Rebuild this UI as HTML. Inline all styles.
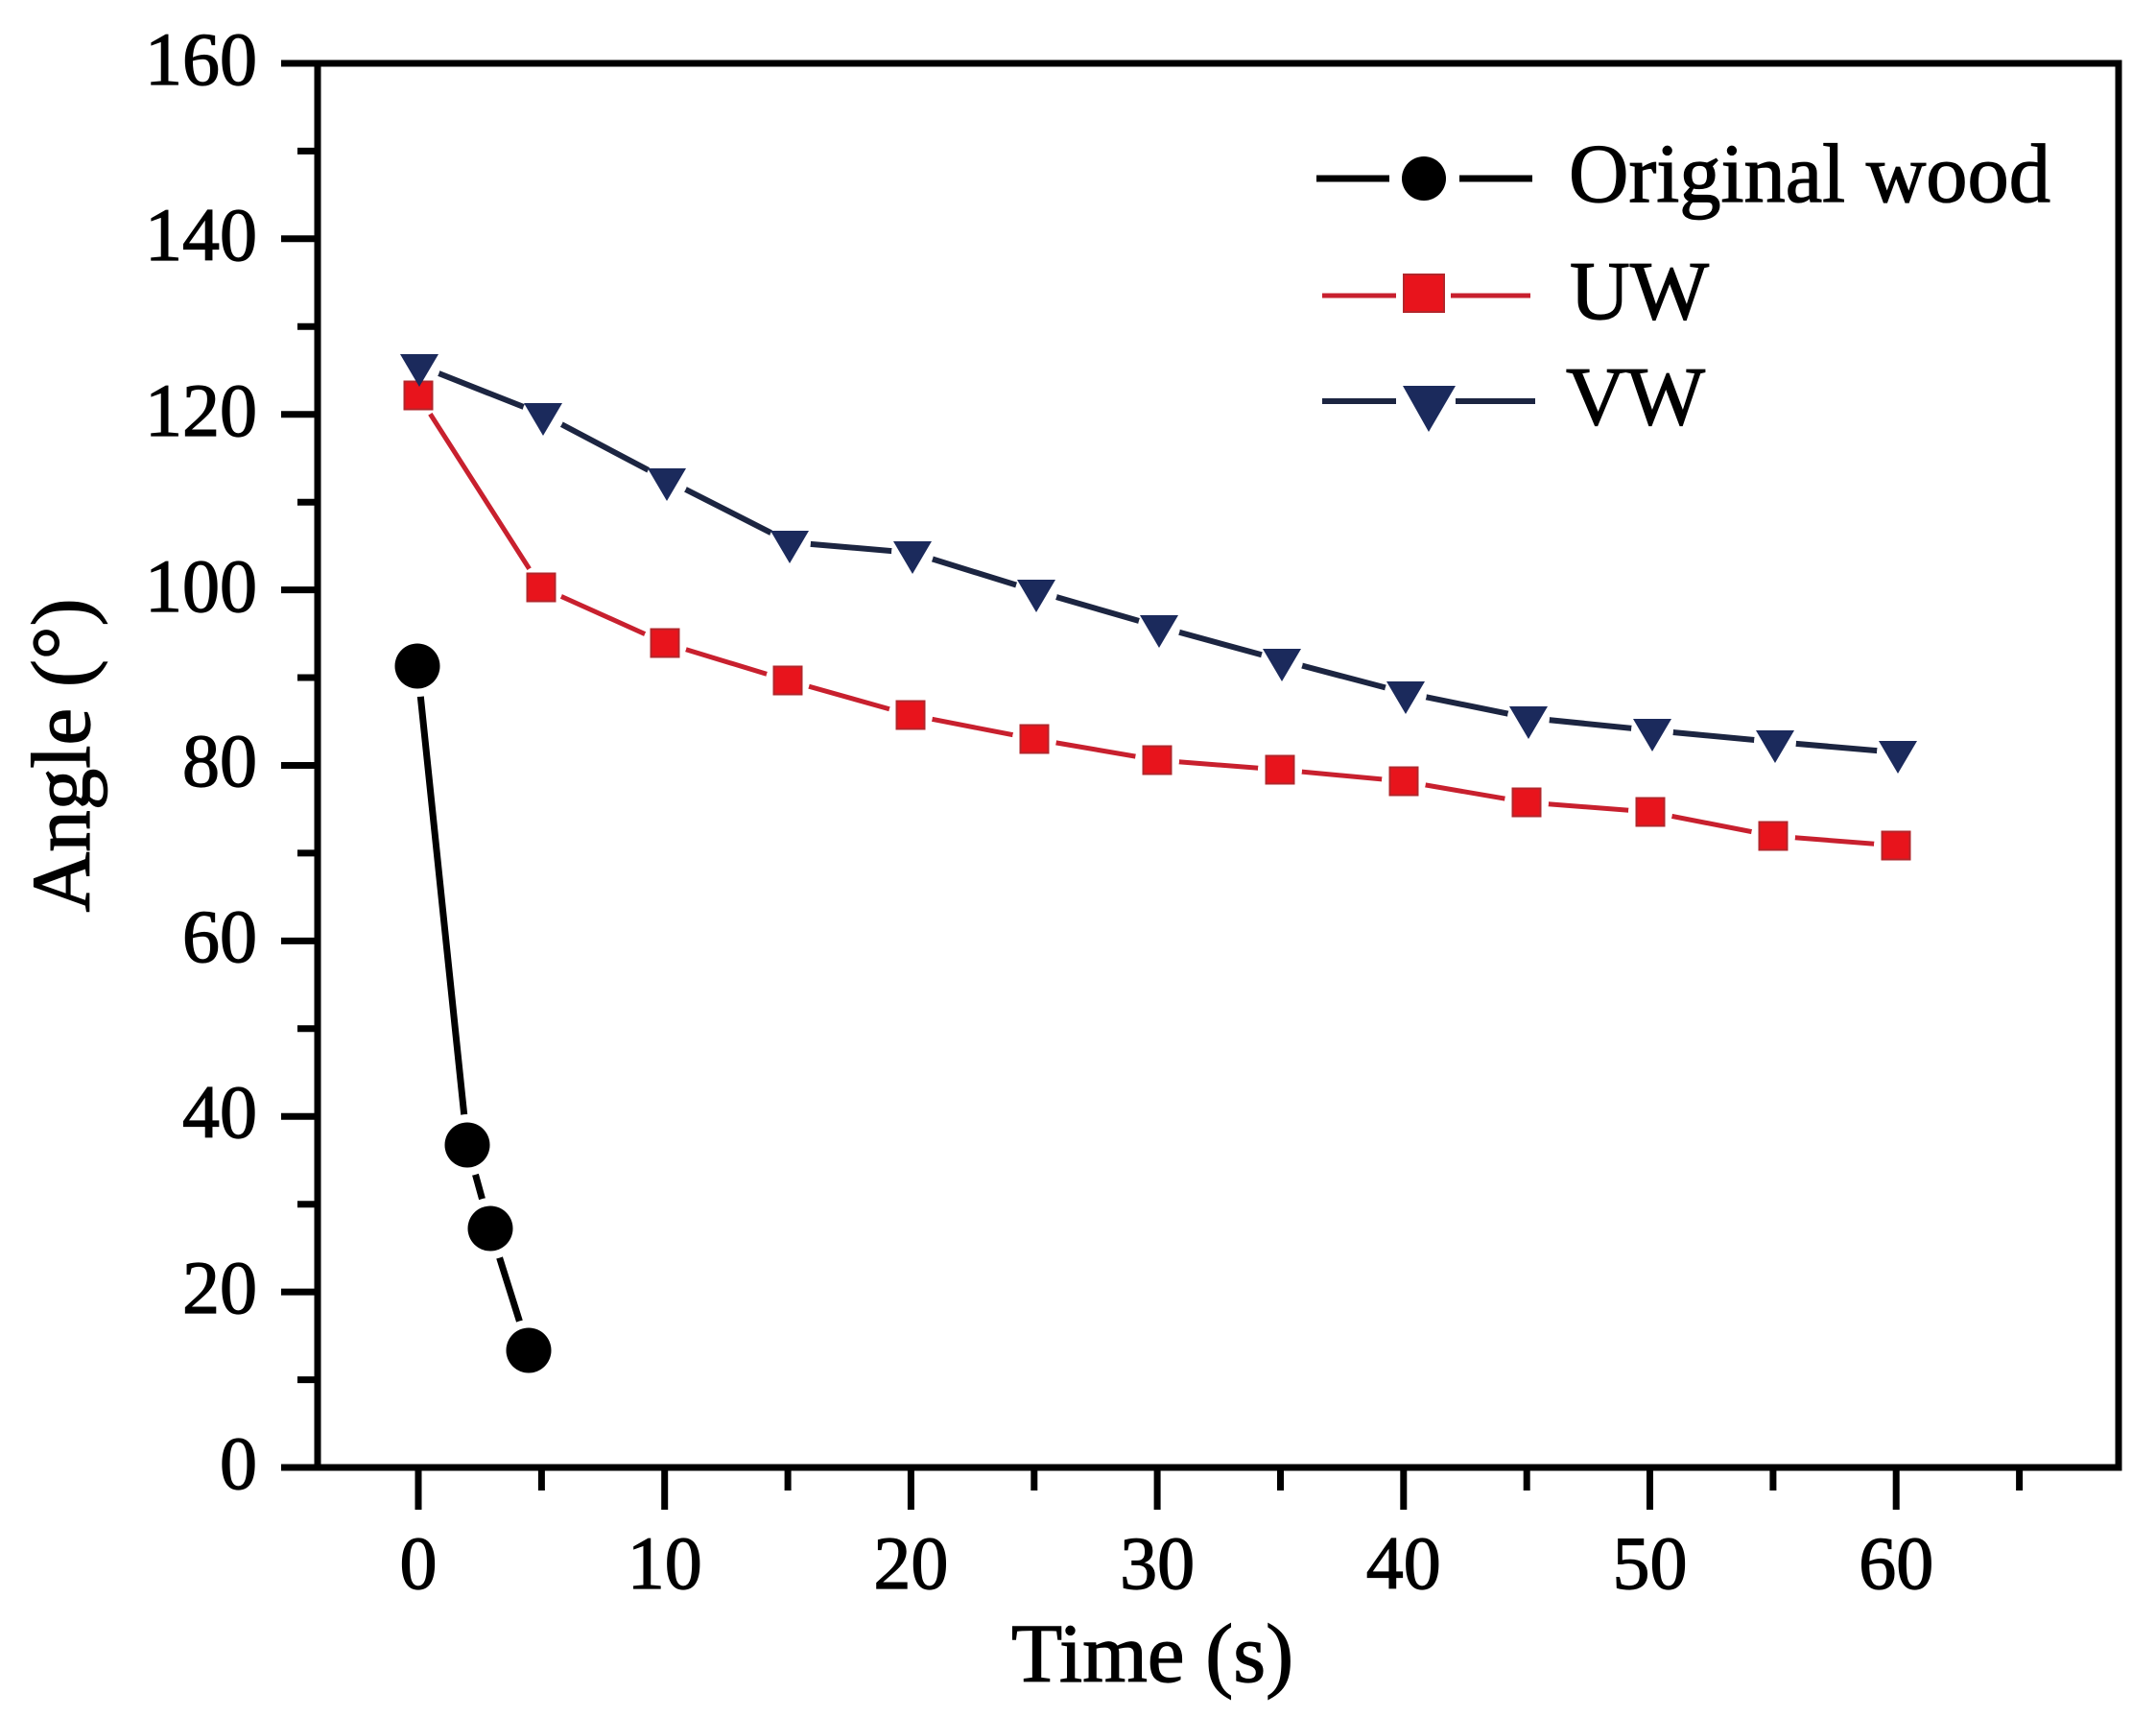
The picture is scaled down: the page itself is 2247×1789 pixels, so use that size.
<!DOCTYPE html>
<html><head><meta charset="utf-8"><style>
html,body{margin:0;padding:0;background:#fff;}
svg{display:block;}
text{font-family:"Liberation Serif","Times New Roman",serif;fill:#000;stroke:#000;stroke-width:1.2;}
</style></head><body>
<svg width="2247" height="1789" viewBox="0 0 2247 1789" xmlns="http://www.w3.org/2000/svg">
<rect x="0" y="0" width="2247" height="1789" fill="#fff"/>
<!-- frame -->
<rect x="331" y="66" width="1877" height="1463" fill="none" stroke="#000" stroke-width="7"/>
<!-- y ticks -->
<g stroke="#000" stroke-width="7">
<line x1="293" y1="1529" x2="331" y2="1529"/>
<line x1="310" y1="1437.6" x2="331" y2="1437.6"/>
<line x1="293" y1="1346.1" x2="331" y2="1346.1"/>
<line x1="310" y1="1254.7" x2="331" y2="1254.7"/>
<line x1="293" y1="1163.2" x2="331" y2="1163.2"/>
<line x1="310" y1="1071.8" x2="331" y2="1071.8"/>
<line x1="293" y1="980.4" x2="331" y2="980.4"/>
<line x1="310" y1="888.9" x2="331" y2="888.9"/>
<line x1="293" y1="797.5" x2="331" y2="797.5"/>
<line x1="310" y1="706" x2="331" y2="706"/>
<line x1="293" y1="614.6" x2="331" y2="614.6"/>
<line x1="310" y1="523.2" x2="331" y2="523.2"/>
<line x1="293" y1="431.7" x2="331" y2="431.7"/>
<line x1="310" y1="340.3" x2="331" y2="340.3"/>
<line x1="293" y1="248.8" x2="331" y2="248.8"/>
<line x1="310" y1="157.4" x2="331" y2="157.4"/>
<line x1="293" y1="66" x2="331" y2="66"/>
</g>
<!-- x ticks -->
<g stroke="#000" stroke-width="7">
<line x1="436" y1="1529" x2="436" y2="1573"/>
<line x1="564.4" y1="1529" x2="564.4" y2="1553"/>
<line x1="692.7" y1="1529" x2="692.7" y2="1573"/>
<line x1="821.1" y1="1529" x2="821.1" y2="1553"/>
<line x1="949.4" y1="1529" x2="949.4" y2="1573"/>
<line x1="1077.8" y1="1529" x2="1077.8" y2="1553"/>
<line x1="1206.1" y1="1529" x2="1206.1" y2="1573"/>
<line x1="1334.5" y1="1529" x2="1334.5" y2="1553"/>
<line x1="1462.8" y1="1529" x2="1462.8" y2="1573"/>
<line x1="1591.2" y1="1529" x2="1591.2" y2="1553"/>
<line x1="1719.5" y1="1529" x2="1719.5" y2="1573"/>
<line x1="1847.9" y1="1529" x2="1847.9" y2="1553"/>
<line x1="1976.2" y1="1529" x2="1976.2" y2="1573"/>
<line x1="2104.6" y1="1529" x2="2104.6" y2="1553"/>
</g>
<!-- y tick labels -->
<g font-size="78" text-anchor="end">
<text x="268" y="1551">0</text>
<text x="268" y="1368">20</text>
<text x="268" y="1185">40</text>
<text x="268" y="1002">60</text>
<text x="268" y="819">80</text>
<text x="268" y="637">100</text>
<text x="268" y="454">120</text>
<text x="268" y="271">140</text>
<text x="268" y="88">160</text>
</g>
<!-- x tick labels -->
<g font-size="78" text-anchor="middle">
<text x="436" y="1655">0</text>
<text x="692.7" y="1655">10</text>
<text x="949.4" y="1655">20</text>
<text x="1206.1" y="1655">30</text>
<text x="1462.8" y="1655">40</text>
<text x="1719.5" y="1655">50</text>
<text x="1976.2" y="1655">60</text>
</g>
<!-- axis titles -->
<text x="1201" y="1752" font-size="87" text-anchor="middle">Time (s)</text>
<text transform="translate(93,787) rotate(-90)" font-size="87" text-anchor="middle">Angle (°)</text>

<!-- series lines -->
<polyline fill="none" stroke="#000" stroke-width="7" points="435,694 487,1193 511,1280 551,1407"/>
<polyline fill="none" stroke="#c8202e" stroke-width="5" points="436,412 564,612 693,670 821,709 949,745 1078,770 1206,792 1334,802 1463,814 1591,836 1720,846 1848,871 1976,881"/>
<polyline fill="none" stroke="#1c2541" stroke-width="6" points="437,381 566,432 695,500 823,565 951,576 1080,616 1208,653 1336,688 1465,722 1593,748 1722,761 1850,773 1978,784"/>

<!-- halos (gap to symbol) -->
<g fill="#fff">
<circle cx="435" cy="694" r="32"/><circle cx="487" cy="1193" r="32"/><circle cx="511" cy="1280" r="32"/><circle cx="551" cy="1407" r="32"/>
<circle cx="436" cy="412" r="23"/><circle cx="564" cy="612" r="23"/><circle cx="693" cy="670" r="23"/><circle cx="821" cy="709" r="23"/><circle cx="949" cy="745" r="23"/><circle cx="1078" cy="770" r="23"/><circle cx="1206" cy="792" r="23"/><circle cx="1334" cy="802" r="23"/><circle cx="1463" cy="814" r="23"/><circle cx="1591" cy="836" r="23"/><circle cx="1720" cy="846" r="23"/><circle cx="1848" cy="871" r="23"/><circle cx="1976" cy="881" r="23"/>
<circle cx="437" cy="381" r="22"/><circle cx="566" cy="432" r="22"/><circle cx="695" cy="500" r="22"/><circle cx="823" cy="565" r="22"/><circle cx="951" cy="576" r="22"/><circle cx="1080" cy="616" r="22"/><circle cx="1208" cy="653" r="22"/><circle cx="1336" cy="688" r="22"/><circle cx="1465" cy="722" r="22"/><circle cx="1593" cy="748" r="22"/><circle cx="1722" cy="761" r="22"/><circle cx="1850" cy="773" r="22"/><circle cx="1978" cy="784" r="22"/>
</g>

<!-- markers: circles -->
<g fill="#000">
<circle cx="435" cy="694" r="23.5"/><circle cx="487" cy="1193" r="23.5"/><circle cx="511" cy="1280" r="23.5"/><circle cx="551" cy="1407" r="23.5"/>
</g>
<!-- markers: squares -->
<g fill="#e8141c" stroke="#b3262b" stroke-width="2">
<rect x="421.5" y="397.5" width="29" height="29"/>
<rect x="549.5" y="597.5" width="29" height="29"/>
<rect x="678.5" y="655.5" width="29" height="29"/>
<rect x="806.5" y="694.5" width="29" height="29"/>
<rect x="934.5" y="730.5" width="29" height="29"/>
<rect x="1063.5" y="755.5" width="29" height="29"/>
<rect x="1191.5" y="777.5" width="29" height="29"/>
<rect x="1319.5" y="787.5" width="29" height="29"/>
<rect x="1448.5" y="799.5" width="29" height="29"/>
<rect x="1576.5" y="821.5" width="29" height="29"/>
<rect x="1705.5" y="831.5" width="29" height="29"/>
<rect x="1833.5" y="856.5" width="29" height="29"/>
<rect x="1961.5" y="866.5" width="29" height="29"/>
</g>
<!-- markers: triangles -->
<g fill="#1b2a5c">
<polygon points="417,369 457,369 437,403"/>
<polygon points="546,420 586,420 566,454"/>
<polygon points="675,488 715,488 695,522"/>
<polygon points="803,553 843,553 823,587"/>
<polygon points="931,564 971,564 951,598"/>
<polygon points="1060,604 1100,604 1080,638"/>
<polygon points="1188,641 1228,641 1208,675"/>
<polygon points="1316,676 1356,676 1336,710"/>
<polygon points="1445,710 1485,710 1465,744"/>
<polygon points="1573,736 1613,736 1593,770"/>
<polygon points="1702,749 1742,749 1722,783"/>
<polygon points="1830,761 1870,761 1850,795"/>
<polygon points="1958,772 1998,772 1978,806"/>
</g>

<!-- legend -->
<g>
<line x1="1372" y1="186" x2="1448" y2="186" stroke="#000" stroke-width="7"/>
<line x1="1521" y1="186" x2="1597" y2="186" stroke="#000" stroke-width="7"/>
<circle cx="1484" cy="186" r="23" fill="#000"/>
<line x1="1378" y1="308" x2="1455" y2="308" stroke="#c8202e" stroke-width="5"/>
<line x1="1512" y1="308" x2="1595" y2="308" stroke="#c8202e" stroke-width="5"/>
<rect x="1463" y="286" width="42" height="39" fill="#e8141c" stroke="#b3262b" stroke-width="2"/>
<line x1="1378" y1="418" x2="1455" y2="418" stroke="#1c2541" stroke-width="6"/>
<line x1="1517" y1="418" x2="1600" y2="418" stroke="#1c2541" stroke-width="6"/>
<polygon points="1462,402 1517,402 1489,450" fill="#1b2a5c"/>
<text x="1635" y="210" font-size="87" textLength="502" lengthAdjust="spacingAndGlyphs">Original wood</text>
<text x="1636" y="332" font-size="87">UW</text>
<text x="1632" y="442" font-size="87">VW</text>
</g>
</svg>
</body></html>
